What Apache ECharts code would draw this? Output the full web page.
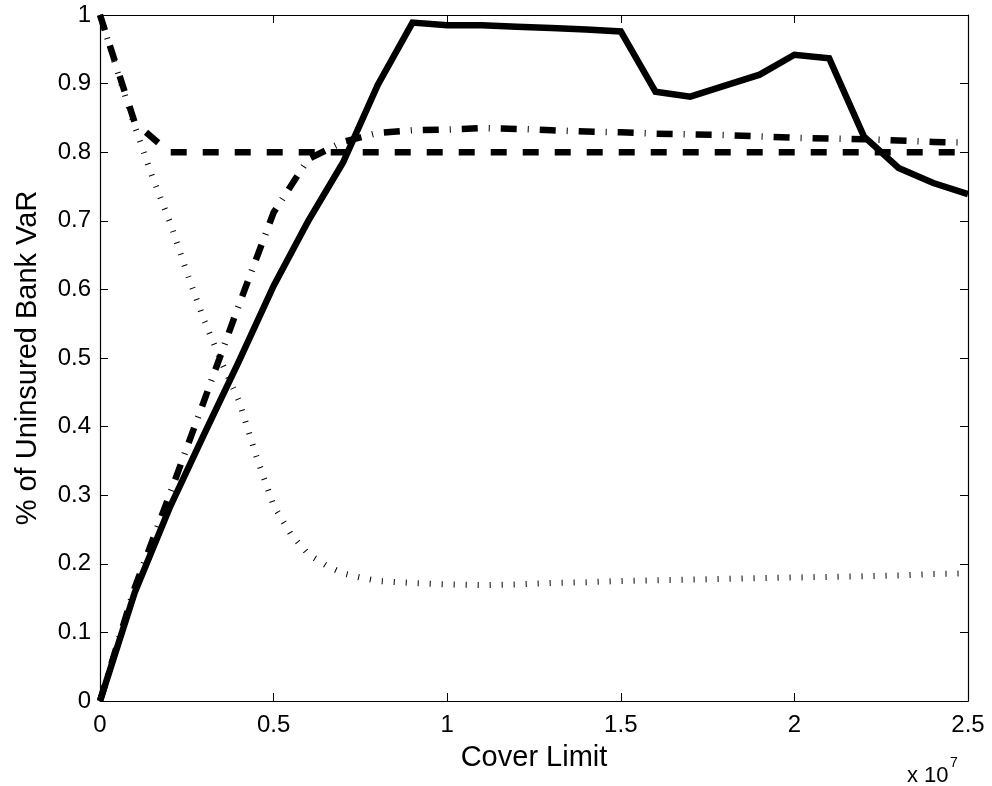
<!DOCTYPE html>
<html>
<head>
<meta charset="utf-8">
<script src="https://cdn.jsdelivr.net/npm/echarts@6/dist/echarts.min.js"></script>
<style>
html,body{margin:0;padding:0;background:#fff;}
#chart{width:992px;height:786px;}
</style>
</head>
<body>
<div id="chart"></div>
<script>
// ---- data ----
var xStep = [0,1e6,2e6,3e6,4e6,5e6,6e6,7e6,8e6,9e6,10e6,11e6,12e6,13e6,14e6,15e6,16e6,17e6,18e6,19e6,20e6,21e6,22e6,23e6,24e6,25e6];

var solidVals = [0,0.158,0.281,0.389,0.495,0.605,0.700,0.785,0.898,0.989,0.985,0.985,0.983,0.981,0.979,0.976,0.888,0.881,0.897,0.913,0.942,0.937,0.823,0.777,0.755,0.739];

var dashDotVals = [0,0.165,0.300,0.438,0.577,0.712,0.790,0.815,0.828,0.832,0.833,0.835,0.834,0.832,0.830,0.829,0.827,0.826,0.825,0.823,0.821,0.820,0.819,0.817,0.815,0.814];

var dashedVals = [1.0,0.843,0.800,0.800,0.800,0.800,0.800,0.800,0.800,0.800,0.800,0.800,0.800,0.800,0.800,0.800,0.800,0.800,0.800,0.800,0.800,0.800,0.800,0.800,0.800,0.800];

var dottedX = [0,0.5e6,1e6,1.5e6,2e6,2.5e6,3e6,3.5e6,4e6,4.5e6,5e6,5.5e6,6e6,6.5e6,7e6,7.5e6,8e6,9e6,10e6,11e6,12e6,13e6,14e6,15e6,16e6,17e6,18e6,19e6,20e6,21e6,22e6,23e6,24e6,25e6];
var dottedVals = [1.0,0.918,0.838,0.765,0.700,0.625,0.555,0.494,0.438,0.357,0.285,0.243,0.214,0.198,0.186,0.180,0.175,0.172,0.170,0.169,0.170,0.172,0.173,0.175,0.176,0.177,0.178,0.179,0.180,0.181,0.182,0.183,0.185,0.186];

var xTickLabels = ['0','0.5','1','1.5','2','2.5'];
var yTickLabels = ['0','0.1','0.2','0.3','0.4','0.5','0.6','0.7','0.8','0.9','1'];

function pairs(xs, ys){ var out=[]; for(var i=0;i<xs.length;i++){ out.push([xs[i], ys[i]]); } return out; }

var FONT = 'Liberation Sans, Arial, Helvetica, sans-serif';
var chart = echarts.init(document.getElementById('chart'), null, {renderer:'canvas'});

function lineSeries(data, width, dash){
  return {
    type:'line', data:data, showSymbol:false, symbol:'none', silent:true,
    xAxisIndex:0, yAxisIndex:0,
    lineStyle:{color:'#000', width:width, type:dash, cap:'butt', join:'miter'},
    animation:false
  };
}

var option = {
  backgroundColor:'#fff',
  animation:false,
  grid:{left:100, right:24, top:15, bottom:85, containLabel:false, outerBoundsMode:'none'},
  xAxis:[{
    type:'value', min:0, max:2.5e7, interval:5e6, position:'bottom',
    name:'Cover Limit', nameLocation:'middle', nameGap:42,
    nameTextStyle:{fontFamily:FONT, fontSize:29, color:'#000'},
    axisLine:{show:true, onZero:false, lineStyle:{color:'#000', width:1.2}},
    axisTick:{show:true, inside:true, length:8, lineStyle:{color:'#000', width:1}},
    axisLabel:{show:true, margin:12, fontFamily:FONT, fontSize:24, color:'#000',
      formatter:function(v){ return xTickLabels[Math.round(v/5e6)]; }},
    splitLine:{show:false}
  },{
    type:'value', min:0, max:2.5e7, interval:5e6, position:'top',
    axisLine:{show:true, onZero:false, lineStyle:{color:'#000', width:1.2}},
    axisTick:{show:true, inside:true, length:8, lineStyle:{color:'#000', width:1}},
    axisLabel:{show:false}, splitLine:{show:false}
  }],
  yAxis:[{
    type:'value', min:0, max:1, interval:0.1, position:'left',
    name:'% of Uninsured Bank VaR', nameLocation:'middle', nameGap:58, nameRotate:90,
    nameTextStyle:{fontFamily:FONT, fontSize:29, color:'#000'},
    axisLine:{show:true, onZero:false, lineStyle:{color:'#000', width:1.2}},
    axisTick:{show:true, inside:true, length:8, lineStyle:{color:'#000', width:1}},
    axisLabel:{show:true, margin:9, fontFamily:FONT, fontSize:24, color:'#000',
      formatter:function(v){ return yTickLabels[Math.round(v*10)]; }},
    splitLine:{show:false}
  },{
    type:'value', min:0, max:1, interval:0.1, position:'right',
    axisLine:{show:true, onZero:false, lineStyle:{color:'#000', width:1.2}},
    axisTick:{show:true, inside:true, length:8, lineStyle:{color:'#000', width:1}},
    axisLabel:{show:false}, splitLine:{show:false}
  }],
  series:[
    lineSeries(pairs(dottedX, dottedVals), 6, [1, 11]),
    lineSeries(pairs(xStep, dashedVals), 6.5, [16, 16]),
    lineSeries(pairs(xStep, dashDotVals), 6.5, [16, 11, 1, 11]),
    lineSeries(pairs(xStep, solidVals), 6.5, 'solid')
  ],
  graphic:[
    {type:'text', left:null, x:907, y:776, silent:true,
     style:{text:'x 10', font:'22px ' + FONT, fill:'#000', verticalAlign:'middle', align:'left'}},
    {type:'text', x:950, y:763, silent:true,
     style:{text:'7', font:'14px ' + FONT, fill:'#000', verticalAlign:'middle', align:'left'}}
  ]
};
chart.setOption(option);
</script>
</body>
</html>
